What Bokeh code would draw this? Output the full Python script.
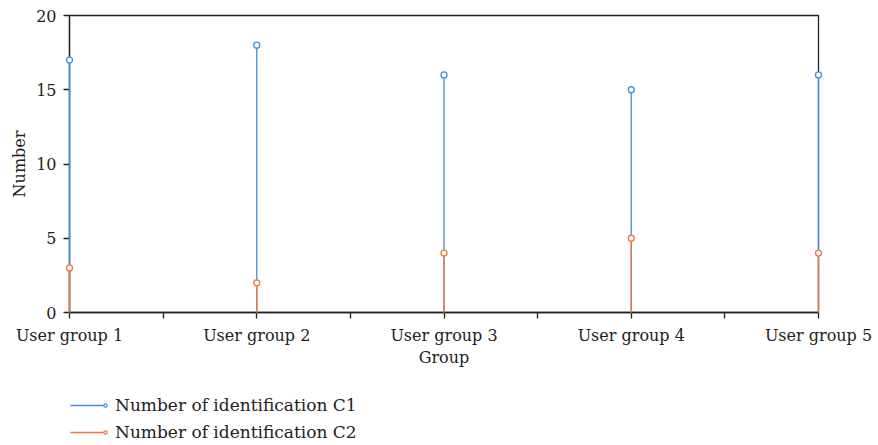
from bokeh.plotting import figure
from bokeh.models import FixedTicker, Legend, LegendItem, Range1d
from bokeh.layouts import column
from bokeh.embed import file_html
from bokeh.resources import INLINE

groups = ["User group 1", "User group 2", "User group 3", "User group 4", "User group 5"]
c1 = [17, 18, 16, 15, 16]
c2 = [3, 2, 4, 5, 4]
y_ticks = [0, 5, 10, 15, 20]
series_names = ["Number of identification C1", "Number of identification C2"]

FONT = "DejaVu Serif"
BLUE = "#4190d8"
ORANGE = "#f0773f"
INK = "#222222"

xs = list(range(len(groups)))
zeros = [0] * len(xs)

p = figure(width=878, height=385, output_backend="svg", toolbar_location=None,
           x_range=Range1d(0, len(groups) - 1), y_range=Range1d(0, 20),
           min_border_left=69, min_border_right=60, min_border_top=15, min_border_bottom=73)

p.segment(x0=xs, y0=zeros, x1=xs, y1=c1, line_color=BLUE, line_width=1.3, level="overlay")
p.segment(x0=xs, y0=zeros, x1=xs, y1=c2, line_color=ORANGE, line_width=1.3, level="overlay")
p.scatter(x=xs, y=c1, marker="circle", size=6, fill_color="white", line_color=BLUE, line_width=1.3, level="overlay")
p.scatter(x=xs, y=c2, marker="circle", size=6, fill_color="white", line_color=ORANGE, line_width=1.3, level="overlay")

p.grid.visible = False
p.outline_line_color = INK
p.outline_line_width = 1.3

p.xaxis.ticker = FixedTicker(ticks=xs, minor_ticks=[i + 0.5 for i in xs[:-1]])
p.xaxis.major_label_overrides = {i: g for i, g in enumerate(groups)}
p.xaxis.axis_label = "Group"
p.yaxis.ticker = FixedTicker(ticks=y_ticks)
p.yaxis.axis_label = "Number"

for ax in (p.xaxis[0], p.yaxis[0]):
    ax.axis_line_color = INK
    ax.axis_line_width = 1.3
    ax.major_tick_line_color = INK
    ax.major_tick_line_width = 1.3
    ax.major_tick_out = 6
    ax.major_tick_in = 0
    ax.minor_tick_line_color = INK
    ax.minor_tick_line_width = 1.3
    ax.minor_tick_out = 6
    ax.minor_tick_in = 0
    ax.major_label_text_font = FONT
    ax.major_label_text_font_size = "16px"
    ax.major_label_text_color = INK
    ax.axis_label_text_font = FONT
    ax.axis_label_text_font_size = "16px"
    ax.axis_label_text_font_style = "normal"
    ax.axis_label_text_color = INK

p.xaxis.major_label_standoff = 7
p.xaxis.axis_label_standoff = 0
p.yaxis.major_label_standoff = 7
p.yaxis.axis_label_standoff = 4

# legend panel (proxy renderers use the same data, out of the visible range)
lg = figure(width=878, height=60, output_backend="svg", toolbar_location=None,
            x_range=Range1d(0, 1), y_range=Range1d(-2, -1),
            min_border_left=0, min_border_right=0, min_border_top=0, min_border_bottom=0)
lg.axis.visible = False
lg.grid.visible = False
lg.outline_line_color = None
ls1 = lg.segment(x0=xs, y0=zeros, x1=xs, y1=c1, line_color=BLUE, line_width=1.3)
ls2 = lg.segment(x0=xs, y0=zeros, x1=xs, y1=c2, line_color=ORANGE, line_width=1.3)
lm1 = lg.scatter(x=xs, y=c1, marker="circle", size=6, fill_color="white", line_color=BLUE, line_width=1.3)
lm2 = lg.scatter(x=xs, y=c2, marker="circle", size=6, fill_color="white", line_color=ORANGE, line_width=1.3)

common = dict(orientation="vertical", label_text_font=FONT, label_text_font_size="17px",
              label_text_color=INK, glyph_height=20, label_height=20, spacing=7,
              padding=0, margin=0, border_line_color=None, background_fill_alpha=0)

legend_lines = Legend(items=[LegendItem(label=series_names[0], renderers=[ls1]),
                             LegendItem(label=series_names[1], renderers=[ls2])],
                      location=(1, 3), glyph_width=35, label_standoff=10, **common)
legend_marks = Legend(items=[LegendItem(label=" ", renderers=[lm1]),
                             LegendItem(label=" ", renderers=[lm2])],
                      location=(32, 3), glyph_width=8, label_standoff=0, **common)
lg.add_layout(legend_lines, "center")
lg.add_layout(legend_marks, "center")

layout = column(p, lg, spacing=0)
open("out.html", "w").write(file_html(layout, INLINE))
